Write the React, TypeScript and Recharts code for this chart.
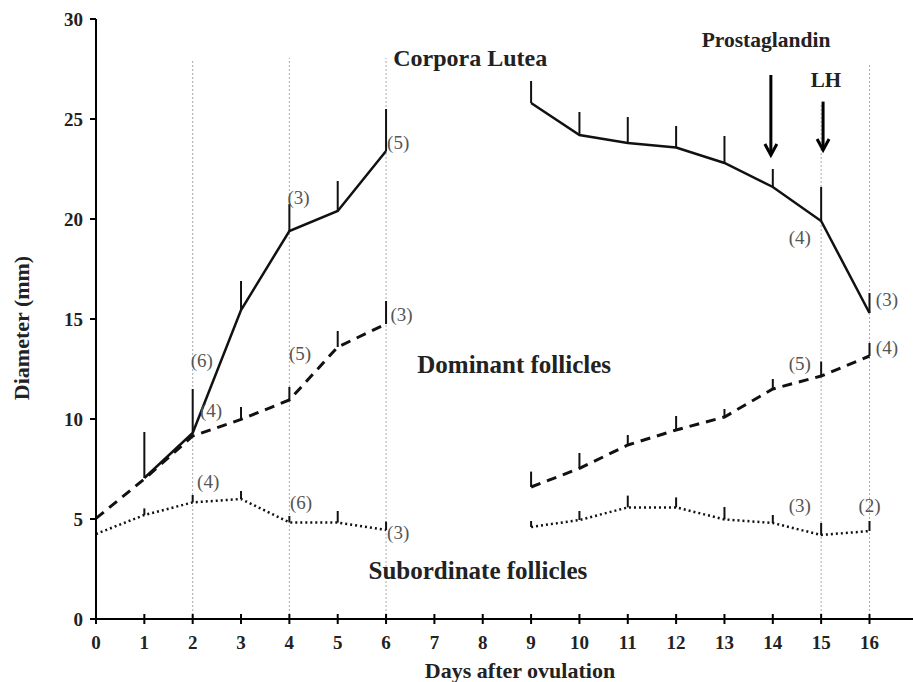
import React from 'react';
import {
  LineChart,
  Line,
  XAxis,
  YAxis,
  ErrorBar,
  ReferenceLine,
  ReferenceDot,
  Label
} from 'recharts';

// Days after ovulation (7 and 8 were not measured)
const days = [0, 1, 2, 3, 4, 5, 6, 7, 8, 9, 10, 11, 12, 13, 14, 15, 16];

// Corpora lutea mean diameter and top of the error bar (mm)
const corporaLutea = [null, 7.05, 9.3, 15.45, 19.4, 20.4, 23.4, null, null, 25.8, 24.2, 23.8, 23.57, 22.8, 21.6, 19.9, 15.3];
const corporaLuteaTop = [null, 9.35, 11.5, 16.9, 20.75, 21.9, 25.5, null, null, 26.9, 25.35, 25.1, 24.65, 24.15, 22.5, 21.6, 16.3];

// Dominant follicles
const dominant = [5.03, 7.0, 9.15, 9.98, 10.95, 13.6, 14.75, null, null, 6.6, 7.53, 8.7, 9.45, 10.1, 11.5, 12.15, 13.15];
const dominantTop = [null, null, null, 10.6, 11.6, 14.4, 15.9, null, null, 7.37, 8.3, 9.2, 10.15, 10.5, 12.0, 12.87, 13.8];

// Subordinate follicles
const subordinate = [4.25, 5.2, 5.83, 6.0, 4.83, 4.82, 4.45, null, null, 4.6, 4.95, 5.58, 5.58, 4.98, 4.8, 4.2, 4.4];
const subordinateTop = [null, 5.53, 6.2, 6.4, 5.15, 5.4, 4.87, null, null, 4.9, 5.4, 6.17, 6.08, 5.6, 5.2, 4.8, 4.9];

const yTicks = [0, 5, 10, 15, 20, 25, 30];

// dotted guides: day, top of the guide
const guideDays = [2, 4, 6, 15, 16];
const guideTops = [27.95, 28.05, 28.05, 25.8, 27.7];

// treatment arrows: day, from, to
const arrowDays = [13.96, 15.04];
const arrowFrom = [27.2, 25.87];
const arrowTo = [23.2, 23.45];

// section titles
const titleText = ['Corpora Lutea', 'Prostaglandin', 'LH', 'Dominant follicles', 'Subordinate follicles'];
const titleX = [7.74, 13.86, 15.1, 8.65, 7.9];
const titleY = [28.05, 28.95, 26.95, 12.75, 2.45];
const titleSize = [24, 21.5, 21, 25, 25];

// number of animals
const countText = ['(6)', '(4)', '(3)', '(5)', '(4)', '(3)', '(3)', '(5)', '(5)', '(4)', '(4)', '(6)', '(3)', '(3)', '(2)'];
const countX = [2.19, 2.38, 4.19, 6.25, 14.56, 16.36, 6.32, 4.22, 14.56, 16.36, 2.32, 4.24, 6.25, 14.56, 16.0];
const countY = [12.95, 10.45, 21.1, 23.85, 19.1, 16.0, 15.25, 13.3, 12.8, 13.6, 6.9, 5.85, 4.35, 5.7, 5.7];

const FONT = '"Liberation Serif", "Times New Roman", serif';

const rows = days.map((day, i) => ({
  day,
  cl: corporaLutea[i],
  clTop: corporaLuteaTop[i],
  dom: dominant[i],
  domTop: dominantTop[i],
  sub: subordinate[i],
  subTop: subordinateTop[i]
}));

const upper = (valueKey: string, topKey: string) => (d: any) => {
  const v = d[valueKey];
  const t = d[topKey];
  if (v == null || t == null) return [0, 0];
  return [0, t - v];
};

const XTick = ({ x, y, payload }: any) => (
  <g>
    <line x1={x} y1={y - 5} x2={x} y2={y + 5} stroke="#000" strokeWidth={2} />
    <text x={x} y={y + 30} textAnchor="middle" fontFamily={FONT} fontWeight="bold" fontSize={19} fill="#222">
      {payload.value}
    </text>
  </g>
);

const Arrow = (props: any) => {
  const { x1, y1, x2, y2 } = props;
  return (
    <g>
      <line x1={x1} y1={y1} x2={x2} y2={y2} stroke="#000" strokeWidth={3} />
      <polyline points={`${x2 - 6},${y2 - 11} ${x2},${y2} ${x2 + 6},${y2 - 11}`} fill="none" stroke="#000" strokeWidth={3} />
    </g>
  );
};

const App = () => {
  return (
    <div style={{ position: 'absolute', left: 0, top: 0, background: '#fff' }}>
      <LineChart width={913} height={682} data={rows} margin={{ top: 19, right: 0, bottom: 33, left: 36 }}>
        <XAxis
          dataKey="day"
          type="number"
          domain={[0, 16.9]}
          ticks={days}
          allowDataOverflow
          interval={0}
          height={30}
          tickSize={0}
          tickMargin={0}
          tick={<XTick />}
          axisLine={{ stroke: '#000', strokeWidth: 2 }}
        >
          <Label
            content={() => (
              <text x={520} y={678} textAnchor="middle" fontFamily={FONT} fontWeight="bold" fontSize={22} fill="#222">
                Days after ovulation
              </text>
            )}
          />
        </XAxis>
        <YAxis
          type="number"
          domain={[0, 30]}
          ticks={yTicks}
          width={60}
          tickSize={6}
          tickMargin={7}
          tickLine={{ stroke: '#000', strokeWidth: 2 }}
          axisLine={{ stroke: '#000', strokeWidth: 2 }}
          tick={{ fontFamily: FONT, fontWeight: 'bold', fontSize: 19, fill: '#222' }}
        >
          <Label
            content={() => (
              <text
                x={21}
                y={328}
                transform="rotate(-90 21 328)"
                textAnchor="middle"
                dominantBaseline="central"
                fontFamily={FONT}
                fontWeight="bold"
                fontSize={22}
                fill="#222"
              >
                Diameter (mm)
              </text>
            )}
          />
        </YAxis>

        {guideDays.map((d, i) => (
          <ReferenceLine
            key={`guide-${d}`}
            segment={[{ x: d, y: 0 }, { x: d, y: guideTops[i] }]}
            stroke="#aaa"
            strokeWidth={1}
            strokeDasharray="2 2"
          />
        ))}

        <Line
          dataKey="sub"
          type="linear"
          stroke="#111"
          strokeWidth={2.5}
          strokeDasharray="2 3"
          dot={false}
          connectNulls={false}
          isAnimationActive={false}
        >
          <ErrorBar dataKey={upper('sub', 'subTop')} width={0} stroke="#111" strokeWidth={2} direction="y" />
        </Line>
        <Line
          dataKey="dom"
          type="linear"
          stroke="#111"
          strokeWidth={3}
          strokeDasharray="10 7"
          dot={false}
          connectNulls={false}
          isAnimationActive={false}
        >
          <ErrorBar dataKey={upper('dom', 'domTop')} width={0} stroke="#111" strokeWidth={2} direction="y" />
        </Line>
        <Line
          dataKey="cl"
          type="linear"
          stroke="#111"
          strokeWidth={2.5}
          dot={false}
          connectNulls={false}
          isAnimationActive={false}
        >
          <ErrorBar dataKey={upper('cl', 'clTop')} width={0} stroke="#111" strokeWidth={2} direction="y" />
        </Line>

        {arrowDays.map((d, i) => (
          <ReferenceLine
            key={`arrow-${i}`}
            segment={[{ x: d, y: arrowFrom[i] }, { x: d, y: arrowTo[i] }]}
            shape={<Arrow />}
          />
        ))}

        {titleText.map((t, i) => (
          <ReferenceDot
            key={`title-${i}`}
            x={titleX[i]}
            y={titleY[i]}
            r={1}
            shape={(p: any) => (
              <text x={p.cx} y={p.cy} textAnchor="middle" dominantBaseline="central" fontFamily={FONT} fontWeight="bold" fontSize={titleSize[i]} fill="#222">
                {t}
              </text>
            )}
          />
        ))}

        {countText.map((t, i) => (
          <ReferenceDot
            key={`count-${i}`}
            x={countX[i]}
            y={countY[i]}
            r={1}
            shape={(p: any) => (
              <text x={p.cx} y={p.cy} textAnchor="middle" dominantBaseline="central" fontFamily={FONT} fontSize={19} fill="#555">
                {t}
              </text>
            )}
          />
        ))}
      </LineChart>
    </div>
  );
};

export default App;
